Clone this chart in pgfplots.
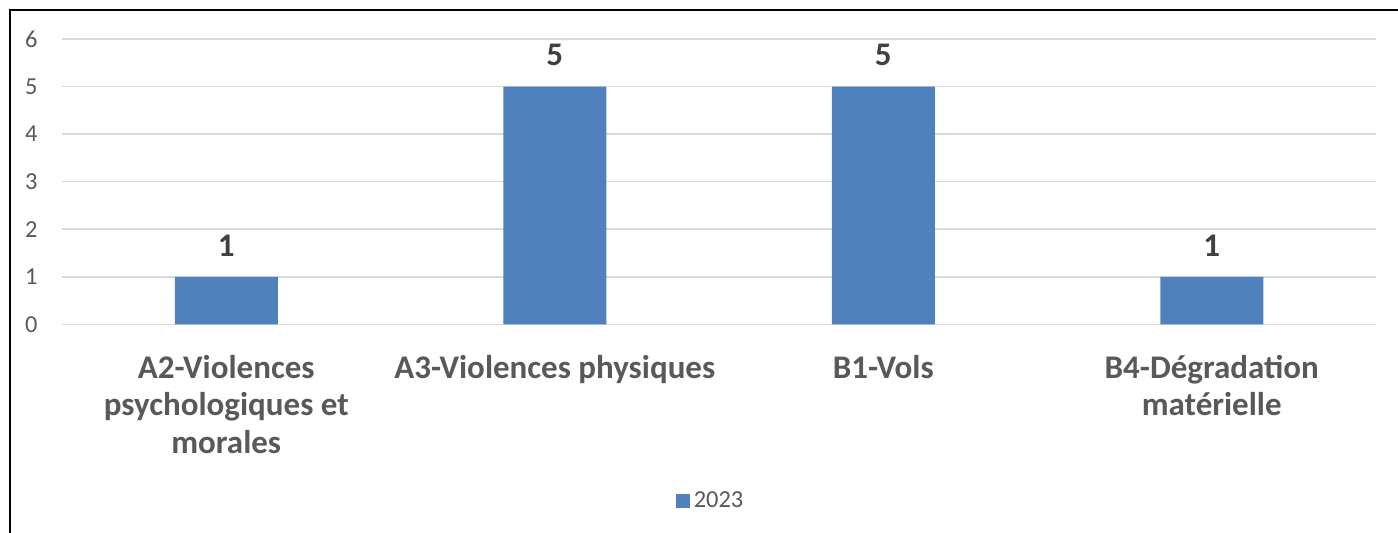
\documentclass[border=0pt]{standalone}
\usepackage{pgfplots}
\pgfplotsset{compat=1.18}
\usepackage{fontspec}
\setmainfont{Carlito}
\definecolor{barblue}{RGB}{79,129,189}
\definecolor{gridgray}{RGB}{217,217,217}
\definecolor{ticktext}{RGB}{89,89,89}
\definecolor{labeltext}{RGB}{64,64,64}

\begin{document}
\begin{tikzpicture}
\useasboundingbox (0,0) rectangle (699pt,266.5pt);
% outer chart frame (left and top edges show in the crop)
\draw[line width=1pt, black] (5pt,-2pt) -- (5pt,261.5pt) -- (702pt,261.5pt);

\begin{axis}[
    at={(31pt,104.3pt)},
    anchor=south west,
    scale only axis,
    width=657pt,
    height=142.7pt,
    xmin=-0.5, xmax=3.5,
    ymin=0, ymax=6,
    ybar,
    bar width=51.5pt,
    axis line style={draw=none},
    axis x line*=bottom,
    ytick={0,1,2,3,4,5,6},
    xtick={0,1,2,3},
    xticklabels={
        {A2-Violences\\psychologiques et\\morales},
        {A3-Violences physiques},
        {B1-Vols},
        {B4-Dégradation\\matérielle}},
    major tick length=0pt,
    ymajorgrids,
    grid style={gridgray, line width=0.8pt},
    /pgf/number format/assume math mode=true,
    yticklabel style={font=\fontsize{12.2}{14}\selectfont, text=ticktext,
        anchor=east, inner sep=0pt, xshift=-12pt},
    xticklabel style={font=\fontsize{16.5}{18.8}\selectfont\bfseries, text=ticktext,
        anchor=north, inner sep=0pt, yshift=-15.1pt, align=center},
    nodes near coords,
    every node near coord/.append style={font=\fontsize{16.5}{18}\selectfont\bfseries,
        text=labeltext, anchor=south, inner sep=0pt, yshift=10pt},
    legend style={at={(0.4943,-0.619)}, anchor=center, draw=none,
        font=\fontsize{12.2}{14}\selectfont, text=ticktext, inner sep=0pt,
        /tikz/every even column/.append style={column sep=0pt}},
    legend image code/.code={\fill[barblue] (0pt,-3.5pt) rectangle (7pt,3.5pt);},
    legend cell align=left,
]
\addplot[fill=barblue, draw=none] coordinates {
    (0,1) (1,5) (2,5) (3,1)
};
\addlegendentry{2023}
\end{axis}
\end{tikzpicture}
\end{document}
